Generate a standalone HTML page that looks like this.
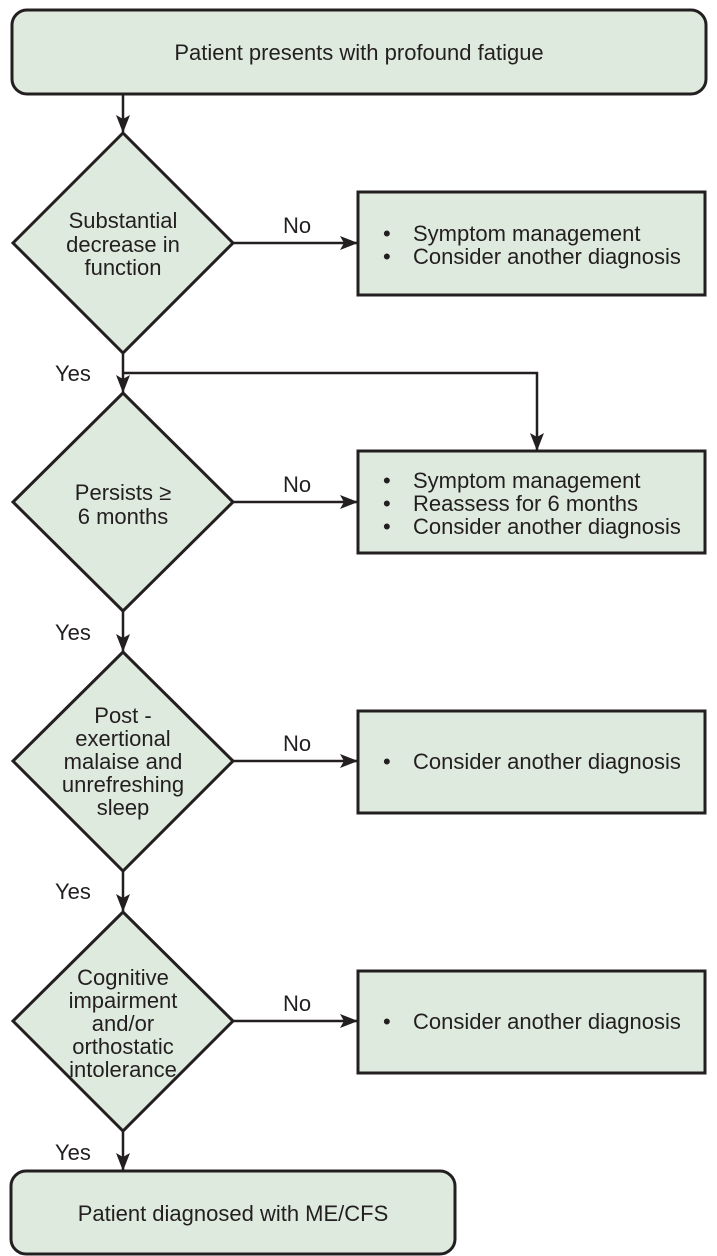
<!DOCTYPE html>
<html><head><meta charset="utf-8"><style>
html,body{margin:0;padding:0;background:#fff}
svg{display:block}
text{font-family:"Liberation Sans",sans-serif;fill:#231f20}
</style></head><body>
<svg width="717" height="1256" viewBox="0 0 717 1256" xmlns="http://www.w3.org/2000/svg">
<defs><marker id="a" markerWidth="18" markerHeight="14" refX="17" refY="7" orient="auto" markerUnits="userSpaceOnUse"><path d="M0,0 L18,7 L0,14 L4,7 Z" fill="#231f20"/></marker></defs>
<g stroke="#231f20" stroke-width="3" fill="#dfeade">
<rect x="12" y="10" width="694" height="84" rx="15"/>
<polygon points="123,133 233,243 123,353 13,243"/>
<rect x="358" y="192" width="347" height="103"/>
<polygon points="123,393 233,502 123,611 13,502"/>
<rect x="358" y="451" width="347" height="102"/>
<polygon points="123,652 233,761 123,871 13,761"/>
<rect x="358" y="711" width="347" height="102"/>
<polygon points="123,912 233,1021 123,1131 13,1021"/>
<rect x="358" y="971" width="347" height="102"/>
<rect x="11" y="1171" width="444" height="83" rx="15"/>
</g>
<g stroke="#231f20" stroke-width="2.5" fill="none" marker-end="url(#a)">
<line x1="123" y1="94" x2="123" y2="132"/>
<line x1="233" y1="243" x2="357" y2="243"/>
<line x1="123" y1="353" x2="123" y2="392"/>
<polyline points="123,373 537,373 537,450"/>
<line x1="233" y1="502" x2="357" y2="502"/>
<line x1="123" y1="611" x2="123" y2="651"/>
<line x1="233" y1="761" x2="357" y2="761"/>
<line x1="123" y1="871" x2="123" y2="911"/>
<line x1="233" y1="1021" x2="357" y2="1021"/>
<line x1="123" y1="1131" x2="123" y2="1170"/>
</g>
<g font-size="22">
<text x="359" y="60" text-anchor="middle">Patient presents with profound fatigue</text>
<text x="233" y="1221" text-anchor="middle">Patient diagnosed with ME/CFS</text>
<g text-anchor="middle">
<text x="123" y="228">Substantial</text><text x="123" y="252">decrease in</text><text x="123" y="275">function</text>
<text x="123" y="500">Persists ≥</text><text x="123" y="524">6 months</text>
<text x="123" y="723">Post -</text><text x="123" y="746">exertional</text><text x="123" y="769">malaise and</text><text x="123" y="792">unrefreshing</text><text x="123" y="815">sleep</text>
<text x="123" y="985">Cognitive</text><text x="123" y="1008">impairment</text><text x="123" y="1031">and/or</text><text x="123" y="1054">orthostatic</text><text x="123" y="1077">intolerance</text>
</g>
<text x="283" y="233">No</text><text x="283" y="492">No</text><text x="283" y="751">No</text><text x="283" y="1011">No</text>
<text x="55" y="381">Yes</text><text x="55" y="640">Yes</text><text x="55" y="899">Yes</text><text x="55" y="1160">Yes</text>
<text x="383" y="241">•</text><text x="413" y="241">Symptom management</text>
<text x="383" y="264">•</text><text x="413" y="264">Consider another diagnosis</text>
<text x="383" y="488">•</text><text x="413" y="488">Symptom management</text>
<text x="383" y="511">•</text><text x="413" y="511">Reassess for 6 months</text>
<text x="383" y="534">•</text><text x="413" y="534">Consider another diagnosis</text>
<text x="383" y="769">•</text><text x="413" y="769">Consider another diagnosis</text>
<text x="383" y="1029">•</text><text x="413" y="1029">Consider another diagnosis</text>
</g>
</svg>
</body></html>
